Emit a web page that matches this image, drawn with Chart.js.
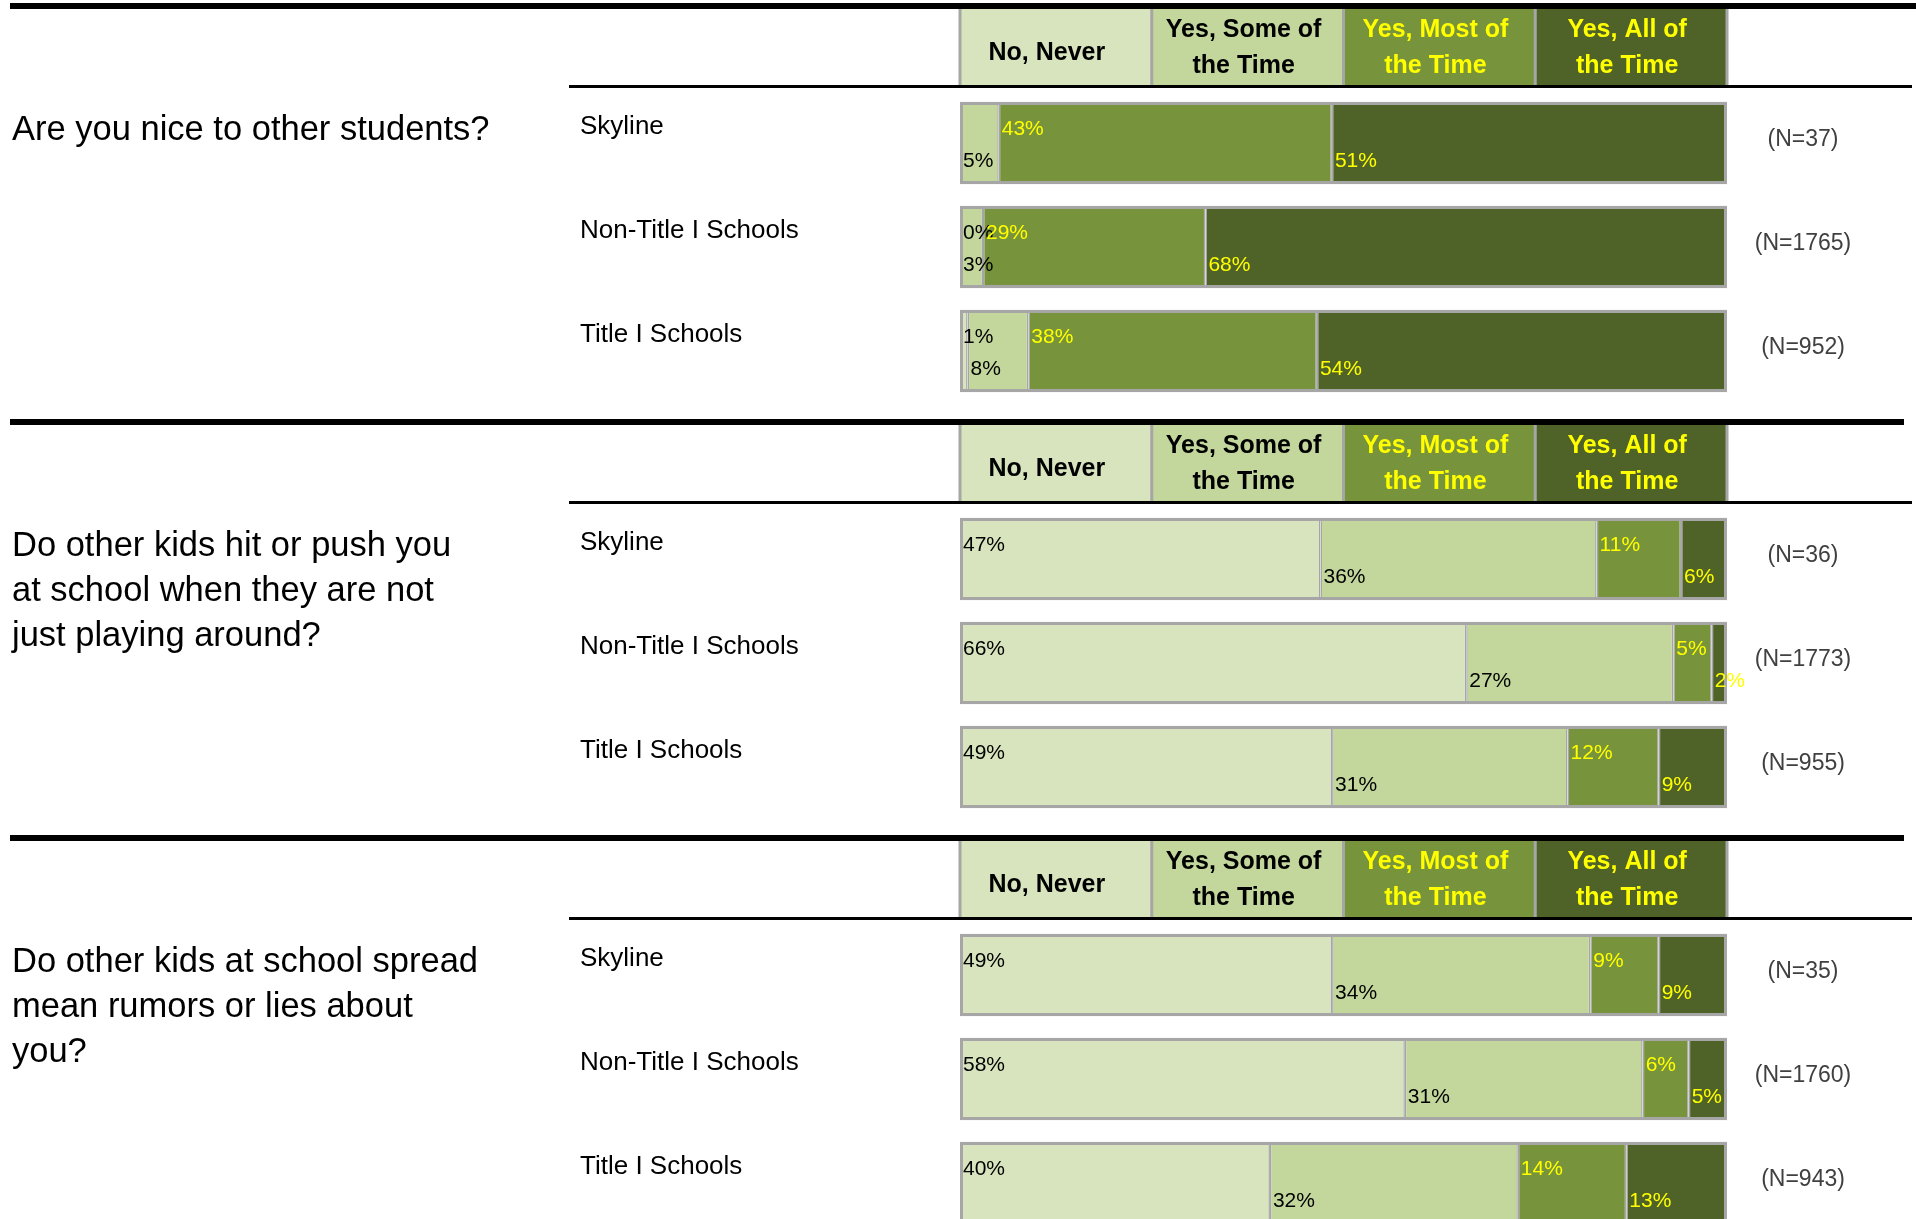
<!DOCTYPE html>
<html>
<head>
<meta charset="utf-8">
<script src="https://cdn.jsdelivr.net/npm/chart.js@4/dist/chart.umd.min.js"></script>
<style>
  html, body { margin: 0; padding: 0; background: #fff; overflow: hidden; }
  #page { position: relative; width: 1916px; height: 1219px; overflow: hidden; }
  canvas { position: absolute; left: 0; }
</style>
</head>
<body>
<div id="page">
  <canvas id="q1" width="1916" height="416" style="top:3px"></canvas>
  <canvas id="q2" width="1916" height="416" style="top:419px"></canvas>
  <canvas id="q3" width="1916" height="416" style="top:835px"></canvas>
</div>
<script>
// answer categories (header boxes) and school groups (rows)
var responses = ['No, Never', 'Yes, Some of the Time', 'Yes, Most of the Time', 'Yes, All of the Time'];
var headerLines = [['No, Never'], ['Yes, Some of', 'the Time'], ['Yes, Most of', 'the Time'], ['Yes, All of', 'the Time']];
var groups = ['Skyline', 'Non-Title I Schools', 'Title I Schools'];

// Are you nice to other students?
var q1Text = ['Are you nice to other students?'];
var q1Never = [null, 0, 1];
var q1Some = [5, 3, 8];
var q1Most = [43, 29, 38];
var q1All = [51, 68, 54];
var q1N = [37, 1765, 952];

// Do other kids hit or push you...
var q2Text = ['Do other kids hit or push you', 'at school when they are not', 'just playing around?'];
var q2Never = [47, 66, 49];
var q2Some = [36, 27, 31];
var q2Most = [11, 5, 12];
var q2All = [6, 2, 9];
var q2N = [36, 1773, 955];

// Do other kids spread rumors...
var q3Text = ['Do other kids at school spread', 'mean rumors or lies about', 'you?'];
var q3Never = [49, 58, 40];
var q3Some = [34, 31, 32];
var q3Most = [9, 6, 14];
var q3All = [9, 5, 13];
var q3N = [35, 1760, 943];

var fills = ['#d7e4bd', '#c3d69b', '#77933c', '#4f6228'];
var textColors = ['#000000', '#000000', '#ffff00', '#ffff00'];
var GREY = '#a6a6a6';
var FONT = "'Liberation Sans', Arial, sans-serif";

var surveyPlugin = {
  id: 'survey',
  beforeDatasetsDraw: function (chart) {
    var ctx = chart.ctx;
    var xs = chart.scales.x;
    var opts = chart.options.plugins.survey;
    ctx.save();

    // heavy rule above each question
    ctx.fillStyle = '#000';
    ctx.fillRect(10, 0, opts.ruleEnd - 10, 6);

    // response boxes across the top
    for (var i = 0; i < 4; i++) {
      var a = xs.getPixelForValue(i * 25), b = xs.getPixelForValue((i + 1) * 25);
      ctx.fillStyle = fills[i];
      ctx.fillRect(a, 6, b - a, 76);
    }
    ctx.fillStyle = GREY;
    for (var j = 0; j <= 4; j++) {
      ctx.fillRect(xs.getPixelForValue(j * 25) - 1.5, 6, 3, 76);
    }
    ctx.font = 'bold 25px ' + FONT;
    ctx.textAlign = 'center';
    ctx.textBaseline = 'middle';
    for (var k = 0; k < 4; k++) {
      var cx = (xs.getPixelForValue(k * 25) + xs.getPixelForValue((k + 1) * 25)) / 2 - 4;
      ctx.fillStyle = textColors[k];
      var lines = headerLines[k];
      if (lines.length === 1) {
        ctx.fillText(lines[0], cx - 5, 50);
      } else {
        ctx.fillText(lines[0], cx, 27);
        ctx.fillText(lines[1], cx, 63);
      }
    }

    // rule under the boxes
    ctx.fillStyle = '#000';
    ctx.fillRect(569, 82, 1912 - 569, 3);

    // question, group names and sample sizes
    var meta = chart.getDatasetMeta(3);
    var first = meta.data[0];
    var top0 = first.y - first.height / 2;
    ctx.textAlign = 'left';
    ctx.fillStyle = '#000';
    ctx.font = '34.5px ' + FONT;
    opts.question.forEach(function (line, n) {
      ctx.fillText(line, 12, top0 + 29 + n * 45);
    });
    ctx.font = '26px ' + FONT;
    chart.data.labels.forEach(function (g, r) {
      ctx.fillText(g, 580, meta.data[r].y - 16);
    });
    ctx.textAlign = 'center';
    ctx.fillStyle = '#404040';
    ctx.font = '23px ' + FONT;
    opts.n.forEach(function (n, r) {
      ctx.fillText('(N=' + n + ')', 1803, meta.data[r].y - 3);
    });
    ctx.restore();
  },
  afterDatasetsDraw: function (chart) {
    var ctx = chart.ctx;
    var xs = chart.scales.x;
    var x0 = xs.getPixelForValue(0), x1 = xs.getPixelForValue(100);
    var meta3 = chart.getDatasetMeta(3);
    ctx.save();
    // frame round each bar
    ctx.strokeStyle = GREY;
    ctx.lineWidth = 3;
    meta3.data.forEach(function (el) {
      var top = el.y - el.height / 2;
      ctx.strokeRect(x0 + 1.5, top + 1.5, x1 - x0 - 3, el.height - 3);
    });
    // percent labels, alternating high / low
    ctx.font = '21px ' + FONT;
    ctx.textAlign = 'left';
    ctx.textBaseline = 'middle';
    chart.data.datasets.forEach(function (ds, d) {
      var meta = chart.getDatasetMeta(d);
      meta.data.forEach(function (el, r) {
        var v = ds.raw[r];
        if (v === null) return;
        ctx.fillStyle = textColors[d];
        var y = d % 2 === 0 ? el.y - 14 : el.y + 18;
        ctx.fillText(v + '%', Math.min(el.base, el.x) + 3, y);
      });
    });
    ctx.restore();
  }
};

function buildChart(id, question, series, n, ruleEnd) {
  // 100% stacked: each row is scaled to its own total
  var totals = groups.map(function (g, r) {
    return series.reduce(function (s, arr) { return s + (arr[r] || 0); }, 0);
  });
  var datasets = series.map(function (arr, d) {
    return {
      label: responses[d],
      raw: arr,
      data: arr.map(function (v, r) { return v === null ? null : v / totals[r] * 100; }),
      backgroundColor: fills[d],
      borderColor: GREY,
      borderWidth: { top: 3, bottom: 3, left: 1.5, right: 1.5 },
      borderSkipped: false,
      categoryPercentage: 1,
      barPercentage: 0.79
    };
  });
  return new Chart(document.getElementById(id), {
    type: 'bar',
    data: { labels: groups, datasets: datasets },
    options: {
      indexAxis: 'y',
      responsive: false,
      animation: false,
      layout: { padding: { left: 960, right: 189, top: 88, bottom: 16 } },
      scales: {
        x: { stacked: true, min: 0, max: 100, display: false },
        y: { stacked: true, display: false }
      },
      plugins: {
        legend: { display: false },
        tooltip: { enabled: false },
        survey: { question: question, n: n, ruleEnd: ruleEnd }
      }
    },
    plugins: [surveyPlugin]
  });
}

buildChart('q1', q1Text, [q1Never, q1Some, q1Most, q1All], q1N, 1916);
buildChart('q2', q2Text, [q2Never, q2Some, q2Most, q2All], q2N, 1904);
buildChart('q3', q3Text, [q3Never, q3Some, q3Most, q3All], q3N, 1904);
</script>
</body>
</html>
